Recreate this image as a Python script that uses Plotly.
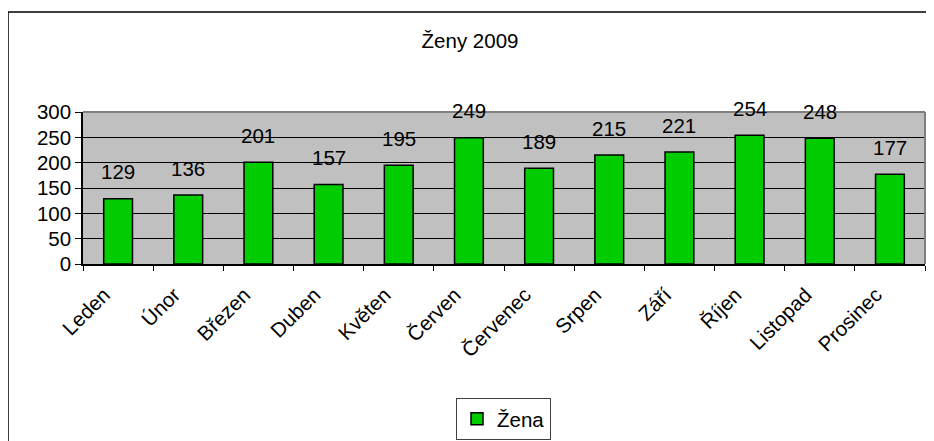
import plotly.graph_objects as go

months = ["Leden", "Únor", "Březen", "Duben", "Květen", "Červen",
          "Červenec", "Srpen", "Září", "Říjen", "Listopad", "Prosinec"]
values = [129, 136, 201, 157, 195, 249, 189, 215, 221, 254, 248, 177]
series_name = "Žena"
title_text = "Ženy 2009"

FONT = "Liberation Sans, Arial, sans-serif"
FS = 20.5

# The page body has an 8px margin, so figure coordinates are page - 8.
OFF = 8
W, H = 934, 441
L, T = 83 - OFF, 112 - OFF
R = W - (925 - OFF)
B = H - (264 - OFF)
pw, ph = W - L - R, H - T - B

def px(xpage):
    return (xpage - OFF - L) / pw

def py(ypage):
    return (H - B - (ypage - OFF)) / ph

fig = go.Figure()
fig.add_trace(go.Bar(
    x=months, y=values, name=series_name,
    marker=dict(color="#00CC00", line=dict(color="black", width=1.5)),
))

for m, v in zip(months, values):
    fig.add_annotation(x=m, y=v, text=str(v), showarrow=False,
                       yshift=27, yanchor="middle",
                       font=dict(family=FONT, size=FS, color="black"))

fig.update_layout(
    width=W, height=H,
    margin=dict(l=L, r=R, t=T, b=B, autoexpand=False),
    paper_bgcolor="white", plot_bgcolor="#C0C0C0",
    font=dict(family=FONT, size=FS, color="black"),
    bargap=0.59,
    showlegend=True,
    title=dict(text=title_text, x=(470 - OFF) / W, xanchor="center",
               y=1 - (41 - OFF) / H, yanchor="middle",
               font=dict(family=FONT, size=FS, color="black")),
    legend=dict(orientation="h", x=px(503.5), xanchor="center",
                y=py(398), yanchor="top",
                bordercolor="#404040", borderwidth=1,
                font=dict(family=FONT, size=FS, color="black"),
                itemwidth=30),
    xaxis=dict(showgrid=False, showline=True, linecolor="black", linewidth=1.5,
               ticks="outside", ticklen=5, tickcolor="black", tickwidth=1,
               tickson="boundaries", tickangle=-45,
               ticklabelstandoff=9, ticklabelshift=-14,
               tickfont=dict(family=FONT, size=FS, color="black")),
    yaxis=dict(range=[0, 300], dtick=50, showgrid=True, gridcolor="black",
               gridwidth=1, showline=True, linecolor="black", linewidth=1.5,
               ticks="outside", ticklen=6, tickcolor="black",
               zeroline=False,
               tickfont=dict(family=FONT, size=FS, color="black")),
    shapes=[
        dict(type="line", xref="paper", yref="paper", x0=0, x1=1, y0=1, y1=1,
             line=dict(color="#808080", width=2), layer="above"),
        dict(type="line", xref="paper", yref="paper", x0=1, x1=1, y0=0, y1=1,
             line=dict(color="#808080", width=2), layer="above"),
        dict(type="rect", xref="paper", yref="paper",
             x0=px(8), x1=px(960), y0=py(12), y1=py(480),
             line=dict(color="black", width=1.5), fillcolor="rgba(0,0,0,0)"),
    ],
)

fig.write_html("out.html")
